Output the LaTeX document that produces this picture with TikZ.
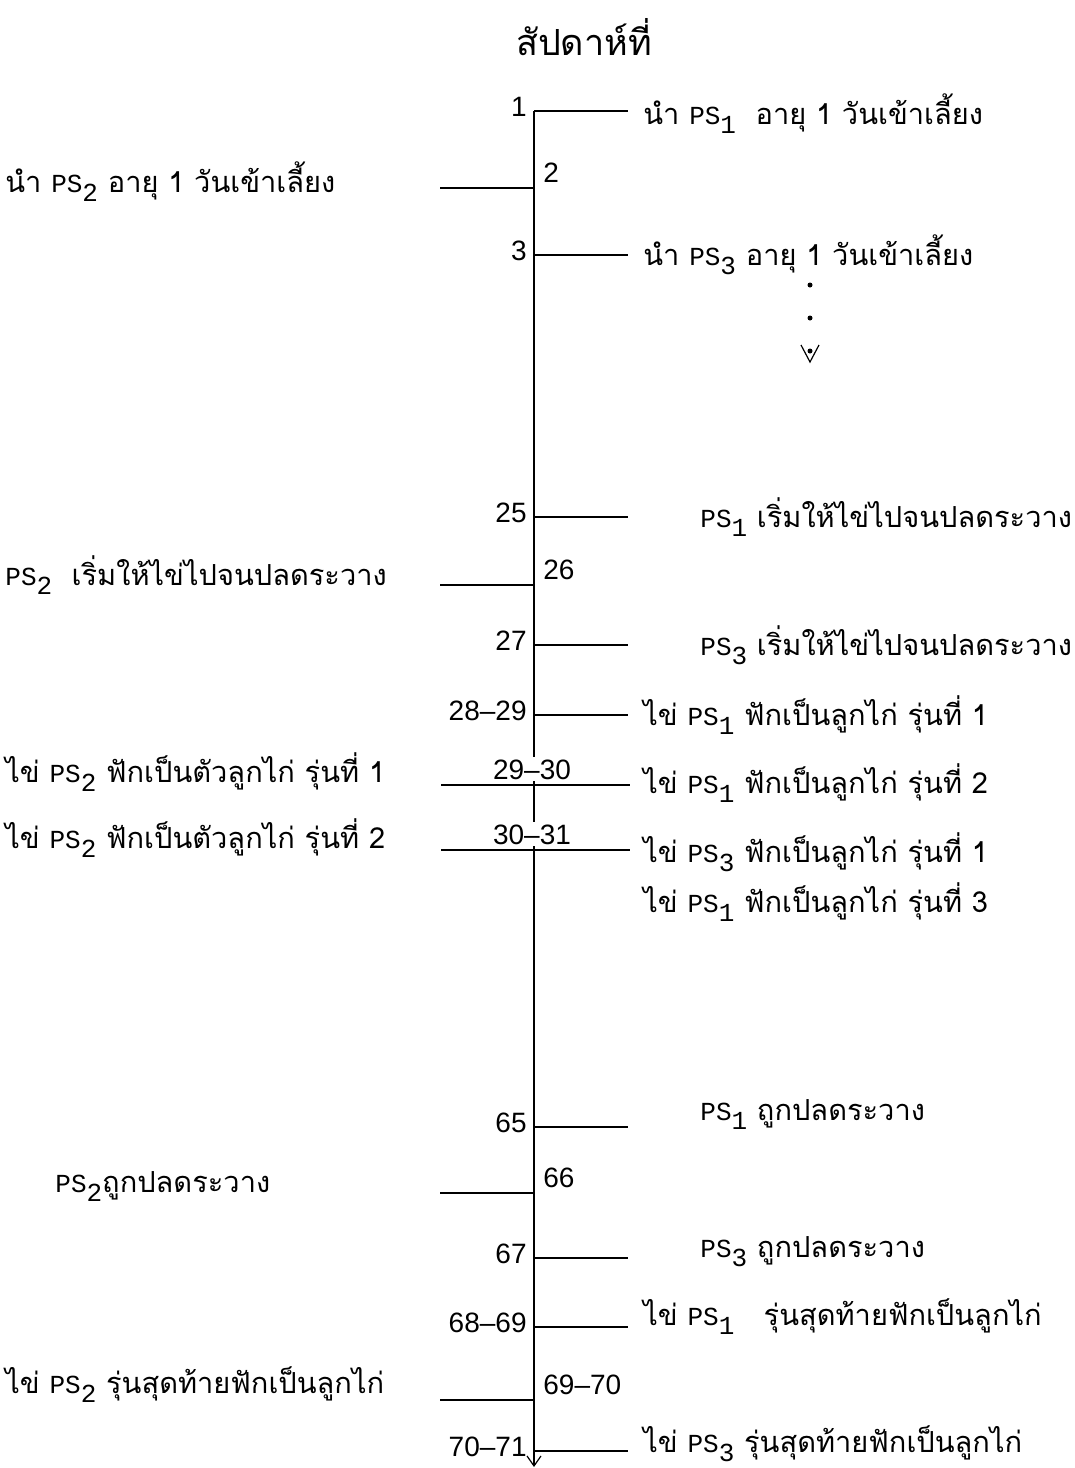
\documentclass[tikz,border=0pt]{standalone}
\usepackage{fontspec}
\setmainfont{Liberation Sans}
\setmonofont{Liberation Mono}
\newfontfamily\thai[Script=Thai]{Loma}
\usetikzlibrary{arrows.meta}
\newcommand{\ps}[1]{{\ttfamily\fontsize{13}{15}\selectfont PS\raisebox{-.7ex}{#1}}}
\tikzset{
  evt/.style={anchor=base west,inner sep=0pt,font=\thai\fontsize{14.5}{16}\selectfont},
  wk/.style={inner sep=0pt,font=\fontsize{14}{16}\selectfont},
  tick/.style={line width=.6pt}
}
\begin{document}
\begin{tikzpicture}[x=.5pt,y=-.5pt,>={Straight Barb[length=5pt,width=7pt]}]
\useasboundingbox (0,0) rectangle (1075,1468);
\node[evt,anchor=base,font=\thai\fontsize{18}{20}\selectfont] (head) at (584,55) {สัปดาห์ที่};
\coordinate (wtop) at (534,111);
\coordinate (wbot) at (534,1467);
\draw[tick,->] (wtop) -- (wbot);
\foreach \yp/\lab [count=\i] in {111/1,255/3,517/25,645/27,715/28--29,1127/65,1258/67,1327/68--69,1451/70--71}{
  \coordinate (ra\i) at (534,\yp); \coordinate (rb\i) at (628,\yp);
  \draw[tick] (ra\i) -- (rb\i);
  \node[wk,anchor=east] (rl\i) at (527,\yp-4) {\lab};}
\foreach \yp/\lab [count=\i] in {188/2,585/26,1193/66,1400/69--70}{
  \coordinate (la\i) at (440,\yp); \coordinate (lb\i) at (534,\yp);
  \draw[tick] (la\i) -- (lb\i);
  \node[wk,anchor=base west] (ll\i) at (543,\yp-6) {\lab};}
\foreach \yp/\lab [count=\i] in {785/29--30,850/30--31}{
  \coordinate (ca\i) at (441,\yp); \coordinate (cb\i) at (630,\yp);
  \draw[tick] (ca\i) -- (cb\i);
  \node[wk,anchor=base,fill=white,inner sep=1pt] (cl\i) at (532,\yp-6) {\lab};}
\node[evt] (e1) at (643,124) {นำ \ps{1}~ อายุ 1 วันเข้าเลี้ยง};
\node[evt] (e2) at (5,192) {นำ \ps{2} อายุ 1 วันเข้าเลี้ยง};
\node[evt] (e3) at (643,265) {นำ \ps{3} อายุ 1 วันเข้าเลี้ยง};
\fill (810,285) circle (2.5) (810,318) circle (2.5) (810,351) circle (2.5);
\draw[tick] (801,345) -- (810,362) -- (819,345);
\node[evt] (e25) at (700,527) {\ps{1} เริ่มให้ไข่ไปจนปลดระวาง};
\node[evt] (e26) at (5,585) {\ps{2}~ เริ่มให้ไข่ไปจนปลดระวาง};
\node[evt] (e27) at (700,655) {\ps{3} เริ่มให้ไข่ไปจนปลดระวาง};
\node[evt] (e28) at (643,725) {ไข่ \ps{1} ฟักเป็นลูกไก่ รุ่นที่ 1};
\node[evt] (e29a) at (5,782) {ไข่ \ps{2} ฟักเป็นตัวลูกไก่ รุ่นที่ 1};
\node[evt] (e29b) at (643,793) {ไข่ \ps{1} ฟักเป็นลูกไก่ รุ่นที่ 2};
\node[evt] (e30a) at (5,848) {ไข่ \ps{2} ฟักเป็นตัวลูกไก่ รุ่นที่ 2};
\node[evt] (e30b) at (643,862) {ไข่ \ps{3} ฟักเป็นลูกไก่ รุ่นที่ 1};
\node[evt] (e31) at (643,912) {ไข่ \ps{1} ฟักเป็นลูกไก่ รุ่นที่ 3};
\node[evt] (e65) at (700,1120) {\ps{1} ถูกปลดระวาง};
\node[evt] (e66) at (55,1192) {\ps{2}ถูกปลดระวาง};
\node[evt] (e67) at (700,1257) {\ps{3} ถูกปลดระวาง};
\node[evt] (e68) at (643,1325) {ไข่ \ps{1}~~ รุ่นสุดท้ายฟักเป็นลูกไก่};
\node[evt] (e69) at (5,1393) {ไข่ \ps{2} รุ่นสุดท้ายฟักเป็นลูกไก่};
\node[evt] (e70) at (643,1452) {ไข่ \ps{3} รุ่นสุดท้ายฟักเป็นลูกไก่};
\end{tikzpicture}
\end{document}
